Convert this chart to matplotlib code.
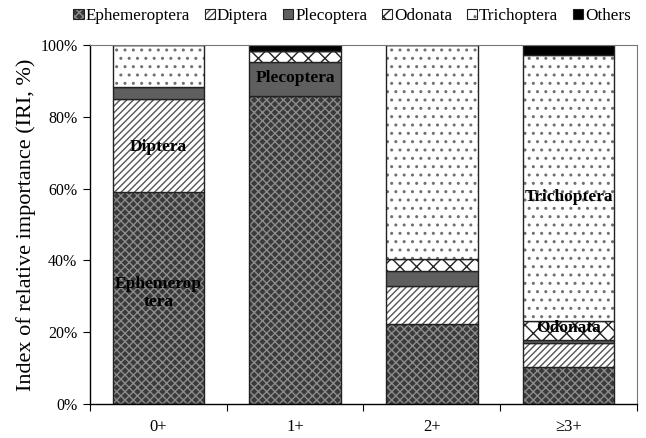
import matplotlib.pyplot as plt
import numpy as np
from matplotlib.patches import Patch
from matplotlib.legend_handler import HandlerTuple

plt.rcParams['font.family'] = ['Liberation Serif', 'DejaVu Serif']
plt.rcParams['hatch.linewidth'] = 1.0

ages = ['0+', '1+', '2+', '≥3+']
taxa = ['Ephemeroptera', 'Diptera', 'Plecoptera', 'Odonata', 'Trichoptera', 'Others']

ephemeroptera = [59.1, 85.8, 22.3, 10.4]
diptera = [25.9, 0.0, 10.7, 6.5]
plecoptera = [3.3, 9.4, 4.0, 0.9]
odonata = [0.0, 3.2, 3.3, 5.3]
trichoptera = [11.7, 0.0, 59.7, 74.1]
others = [0.0, 1.6, 0.0, 2.8]

# (facecolor, hatch, hatch colour)
styles = {
  'Ephemeroptera': ('#3a3a3a', 'xxxx', '#8c8c8c'),
  'Diptera': ('white', '/////', '#555555'),
  'Plecoptera': ('#5f5f5f', '', '#5f5f5f'),
  'Odonata': ('white', 'xx', '#222222'),
  'Trichoptera': ('white', '..', '#707070'),
  'Others': ('black', '', 'black'),
}

series = [ephemeroptera, diptera, plecoptera, odonata, trichoptera, others]

fig = plt.figure(figsize=(6.46, 4.38), dpi=100)
ax = fig.add_axes([0.1393, 0.0776, 0.8467, 0.8194])

x = np.arange(len(ages))
width = 0.67
bottom = np.zeros(len(ages))
handles = []
for name, vals in zip(taxa, series):
  fc, hatch, hc = styles[name]
  vals = np.array(vals)
  ax.bar(x, vals, width, bottom=bottom, color=fc, hatch=hatch, edgecolor=hc, linewidth=0)
  ax.bar(x, vals, width, bottom=bottom, facecolor='none', edgecolor='#222222', linewidth=1.0)
  h1 = Patch(facecolor=fc, hatch=hatch, edgecolor=hc, linewidth=0)
  h2 = Patch(facecolor='none', edgecolor='#222222', linewidth=0.8)
  handles.append((h1, h2))
  bottom += vals

# labels inside bars
lab_kw = dict(ha='center', va='center', fontsize=12.5, fontweight='bold', color='black')
ax.text(0, 71.7, 'Diptera', **lab_kw)
ax.text(0, 31, 'Ephemerop\ntera', linespacing=1.15, **lab_kw)
ax.text(1, 90.8, 'Plecoptera', **lab_kw)
ax.text(3, 57.7, 'Trichoptera', **lab_kw)
ax.text(3, 21.2, 'Odonata', **lab_kw)

ax.set_xlim(-0.5, 3.5)
ax.set_ylim(0, 100)
ax.set_yticks(np.arange(0, 101, 20))
ax.set_yticklabels([f'{v}%' for v in range(0, 101, 20)], fontsize=11.5)
ax.set_xticks(np.arange(-0.5, 4, 1))
ax.set_xticklabels([])
ax.set_xticks(x, minor=True)
ax.set_xticklabels(ages, minor=True, fontsize=12)
ax.tick_params(axis='x', which='minor', length=0, pad=11)
ax.tick_params(axis='x', which='major', length=5, direction='out')
ax.tick_params(axis='y', length=5, direction='out', pad=4)
ax.set_ylabel('Index of relative importance (IRI, %)', fontsize=16, labelpad=3)

for s in ['top', 'right']:
  ax.spines[s].set_color('#777777')
  ax.spines[s].set_linewidth(0.8)
for s in ['left', 'bottom']:
  ax.spines[s].set_linewidth(1.0)

fig.legend(handles, taxa, handler_map={tuple: HandlerTuple(ndivide=1)},
           loc='center right', bbox_to_anchor=(0.995, 1 - 16 / 438), ncols=6,
           frameon=False, fontsize=12.3, handlelength=0.6, handleheight=0.6,
           handletextpad=0.12, columnspacing=0.85, borderpad=0.2)

plt.savefig('out.png', dpi=100)
